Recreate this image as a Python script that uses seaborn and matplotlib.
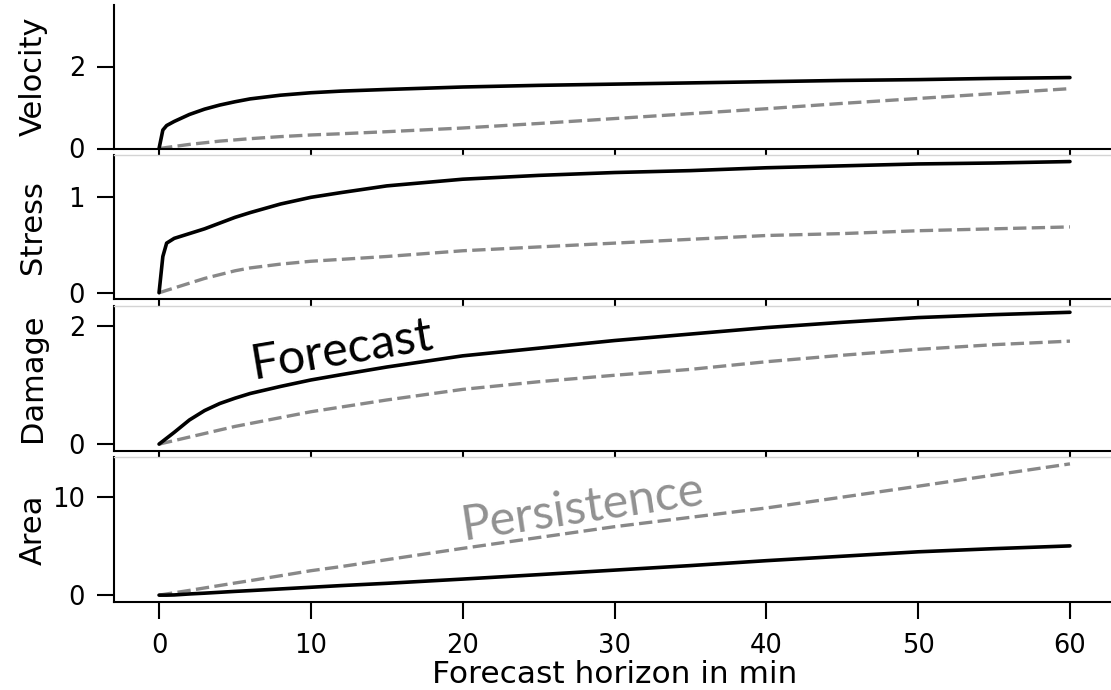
import numpy as np
import pandas as pd
import matplotlib
matplotlib.use("Agg")
import matplotlib.pyplot as plt
import seaborn as sns

# Forecast horizon (minutes) shared by all series
horizon = [0, 0.25, 0.5, 1, 2, 3, 4, 5, 6, 8, 10, 12, 15, 20, 25, 30, 35, 40, 45, 50, 55, 60]

velocity_forecast = [0, 0.45, 0.56, 0.66, 0.83, 0.96, 1.06, 1.14, 1.21, 1.30, 1.36, 1.40, 1.44,
                     1.50, 1.54, 1.57, 1.60, 1.63, 1.66, 1.68, 1.71, 1.73]
velocity_persistence = [0, 0.01, 0.025, 0.05, 0.10, 0.14, 0.18, 0.21, 0.24, 0.29, 0.33, 0.36, 0.41,
                        0.50, 0.61, 0.73, 0.85, 0.97, 1.10, 1.22, 1.34, 1.46]

stress_forecast = [0, 0.38, 0.52, 0.57, 0.62, 0.67, 0.73, 0.79, 0.84, 0.93, 1.00, 1.05, 1.12,
                   1.19, 1.23, 1.26, 1.28, 1.31, 1.33, 1.35, 1.36, 1.375]
stress_persistence = [0, 0.012, 0.025, 0.05, 0.10, 0.15, 0.19, 0.23, 0.26, 0.30, 0.33, 0.35, 0.38,
                      0.44, 0.48, 0.52, 0.56, 0.60, 0.62, 0.65, 0.67, 0.69]

damage_forecast = [0, 0.05, 0.10, 0.20, 0.41, 0.57, 0.69, 0.78, 0.86, 0.98, 1.09, 1.18, 1.31,
                   1.50, 1.63, 1.76, 1.87, 1.98, 2.07, 2.15, 2.20, 2.24]
damage_persistence = [0, 0.015, 0.03, 0.06, 0.12, 0.18, 0.24, 0.30, 0.35, 0.45, 0.55, 0.63, 0.75,
                      0.93, 1.06, 1.17, 1.27, 1.40, 1.51, 1.61, 1.69, 1.75]

area_forecast = [0, 0.0, 0.0, 0.02, 0.12, 0.20, 0.29, 0.38, 0.46, 0.63, 0.80, 0.97, 1.20,
                 1.63, 2.08, 2.54, 3.00, 3.50, 3.95, 4.40, 4.72, 5.00]
area_persistence = [0, 0.06, 0.12, 0.24, 0.48, 0.73, 0.98, 1.23, 1.47, 1.97, 2.48, 2.90, 3.60,
                    4.75, 5.85, 6.95, 7.90, 8.85, 9.95, 11.06, 12.20, 13.33]

panel_names = ["Velocity", "Stress", "Damage", "Area"]
panel_yticks = [[0, 2], [0, 1], [0, 2], [0, 10]]
x_ticks = [0, 10, 20, 30, 40, 50, 60]

forecast_series = [velocity_forecast, stress_forecast, damage_forecast, area_forecast]
persistence_series = [velocity_persistence, stress_persistence, damage_persistence, area_persistence]

sns.set_theme(style="ticks")
plt.rcParams["font.family"] = ["DejaVu Sans"]
plt.rcParams["text.color"] = "black"
plt.rcParams["axes.labelcolor"] = "black"

W, H = 1111, 690
fig = plt.figure(figsize=(W / 100, H / 100), dpi=100)
fig.patch.set_facecolor("white")

left_px, right_px = 113.5, 1115.5
rows_px = [(5, 148.5), (155, 299.3), (305.7, 450.7), (457.3, 601.7)]

axes = []
for i, (name, yt, fc, pc) in enumerate(zip(panel_names, panel_yticks, forecast_series, persistence_series)):
    top, bot = rows_px[i]
    ax = fig.add_axes([left_px / W, 1 - bot / H, (right_px - left_px) / W, (bot - top) / H])
    ax.set_facecolor("white")
    df = pd.DataFrame({"horizon": horizon, "forecast": fc, "persistence": pc})
    sns.lineplot(data=df, x="horizon", y="persistence", ax=ax, color="#888888",
                 linewidth=2.4, linestyle=(0, (4.0, 1.6)))
    sns.lineplot(data=df, x="horizon", y="forecast", ax=ax, color="black", linewidth=2.6)
    ax.set_xlim(-3, 63)
    if name == "Velocity":
        ax.set_ylim(0, 3.5)
    ax.set_yticks(yt)
    ax.set_xticks(x_ticks)
    ax.set_ylabel(name, fontsize=22)
    ax.yaxis.set_label_coords(-0.066, 0.5)
    ax.set_xlabel("")
    for s in ["left", "bottom"]:
        ax.spines[s].set_color("black")
        ax.spines[s].set_linewidth(1.5)
    ax.spines["right"].set_visible(False)
    if i == 0:
        ax.spines["top"].set_visible(False)
    else:
        ax.spines["top"].set_color("#d4d4d4")
        ax.spines["top"].set_linewidth(1.0)
    ax.tick_params(axis="both", direction="out", length=12.5, width=1.5, color="black",
                   labelsize=18.5, labelcolor="black")
    ax.tick_params(axis="x", pad=10)
    ax.tick_params(axis="y", pad=8)
    if i < 3:
        ax.tick_params(axis="x", labelbottom=False)
    axes.append(ax)

axes[-1].set_xlabel("Forecast horizon in min", fontsize=22.5, labelpad=1)

fig.text(342 / W, 1 - 350 / H, "Forecast", family=["Lato", "DejaVu Sans"], fontsize=35,
         color="black", rotation=9.5, ha="center", va="center")
fig.text(583 / W, 1 - 508 / H, "Persistence", family=["Lato", "DejaVu Sans"], fontsize=35,
         color="#919191", rotation=8.5, ha="center", va="center")

fig.savefig("out.png", dpi=100, facecolor="white")
